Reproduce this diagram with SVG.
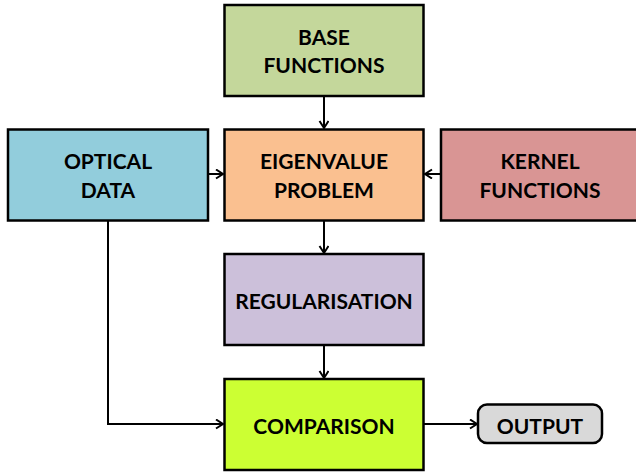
<svg xmlns="http://www.w3.org/2000/svg" width="636" height="474" viewBox="0 0 636 474">
<style>
.box{stroke:#000;stroke-width:2.5}
.t{font-family:Lato,"Liberation Sans",sans-serif;font-weight:bold;font-size:21px;fill:#000;text-anchor:middle}
.c{fill:none;stroke:#000;stroke-width:2}
</style>
<defs>
<marker id="ah" markerUnits="userSpaceOnUse" markerWidth="10" markerHeight="12" refX="8" refY="5" orient="auto">
<path d="M1,0.5 L8,5 L1,9.5" fill="none" stroke="#000" stroke-width="2"/>
</marker>
</defs>
<rect width="636" height="474" fill="#fff"/>
<g id="connectors">
<path class="c" d="M324,96 V128" marker-end="url(#ah)"/>
<path class="c" d="M208,174 H223" marker-end="url(#ah)"/>
<path class="c" d="M441,174 H425" marker-end="url(#ah)"/>
<path class="c" d="M324,221 V253" marker-end="url(#ah)"/>
<path class="c" d="M324,345 V378" marker-end="url(#ah)"/>
<path class="c" d="M108,221 V424 H223" marker-end="url(#ah)"/>
<path class="c" d="M424,424 H477" marker-end="url(#ah)"/>
</g>
<g id="base">
<rect class="box" x="224.5" y="5" width="199" height="91" fill="#C4D79B"/>
<text class="t" x="324" y="44.5">BASE</text>
<text class="t" x="324" y="73">FUNCTIONS</text>
</g>
<g id="optical">
<rect class="box" x="8" y="129.5" width="200" height="91" fill="#92CDDC"/>
<text class="t" x="108" y="168.5">OPTICAL</text>
<text class="t" x="108" y="197.5">DATA</text>
</g>
<g id="eigen">
<rect class="box" x="224.5" y="129.5" width="199" height="91" fill="#FAC090"/>
<text class="t" x="324" y="168.5">EIGENVALUE</text>
<text class="t" x="324" y="197.5">PROBLEM</text>
</g>
<g id="kernel">
<rect class="box" x="441" y="129.5" width="200" height="91" fill="#D99594"/>
<text class="t" x="540" y="168.5">KERNEL</text>
<text class="t" x="540" y="197.5">FUNCTIONS</text>
</g>
<g id="regularisation">
<rect class="box" x="224.5" y="254" width="199" height="91" fill="#CCC0DA"/>
<text class="t" x="324" y="308.5">REGULARISATION</text>
</g>
<g id="comparison">
<rect class="box" x="224.5" y="379" width="199" height="91" fill="#CCFF33"/>
<text class="t" x="324" y="433.5">COMPARISON</text>
</g>
<g id="output">
<rect class="box" x="478" y="404.5" width="124" height="38.5" rx="9" fill="#D9D9D9"/>
<text class="t" x="540" y="433.5">OUTPUT</text>
</g>
</svg>
